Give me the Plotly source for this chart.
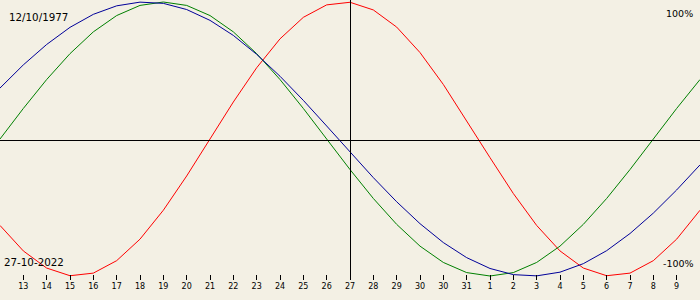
import plotly.graph_objects as go

# Day offsets from 13 Oct 2022 (index 14 = 27 Oct 2022)
days = list(range(-1, 30))
tick_pos = list(range(0, 29))
tick_labels = ["13", "14", "15", "16", "17", "18", "19", "20", "21", "22",
               "23", "24", "25", "26", "27", "28", "29", "30", "30", "31",
               "1", "2", "3", "4", "5", "6", "7", "8", "9"]

# Biorhythm values in percent
physical = [-63.1, -81.7, -94.2, -99.8, -97.9, -88.8, -73.1, -52.0, -27.0, 0.0,
            27.0, 52.0, 73.1, 88.8, 97.9, 99.8, 94.2, 81.7, 63.1, 39.8,
            13.6, -13.6, -39.8, -63.1, -81.7, -94.2, -99.8, -97.9, -88.8, -73.1,
            -52.0]
emotional = [0.0, 22.3, 43.4, 62.3, 78.2, 90.1, 97.5, 100.0, 97.5, 90.1,
             78.2, 62.3, 43.4, 22.3, 0.0, -22.3, -43.4, -62.3, -78.2, -90.1,
             -97.5, -100.0, -97.5, -90.1, -78.2, -62.3, -43.4, -22.3, 0.0, 22.3,
             43.4]
intellectual = [37.2, 54.1, 69.0, 81.5, 91.0, 97.2, 99.9, 99.0, 94.5, 86.6,
                75.6, 61.8, 45.8, 28.2, 9.5, -9.5, -28.2, -45.8, -61.8, -75.6,
                -86.6, -94.5, -99.0, -99.9, -97.2, -91.0, -81.5, -69.0, -54.1, -37.2,
                -18.9]

birth_text = "12/10/1977"
date_text = "27-10-2022"

BG = "#F3F0E4"
W = 700
PX = 1.37            # pixels per percent
CENTER = 139         # pixel row of 0 %
PLOT_H = 280
ymax = CENTER / PX
ymin = ymax - PLOT_H / PX

fig = go.Figure()
for vals, col in [(physical, "#FF0000"), (emotional, "#008000"), (intellectual, "#000099")]:
    fig.add_trace(go.Scatter(x=days, y=vals, mode="lines",
                             line=dict(color=col, width=1), hoverinfo="skip"))

# crisp 1px crosshair lines (centred on pixel column 350 / row 140)
fig.add_shape(type="line", xref="paper", yref="paper", x0=350.5 / W, x1=350.5 / W,
              y0=0, y1=1, line=dict(color="black", width=1), layer="above")
fig.add_shape(type="line", xref="paper", yref="paper", x0=0, x1=1,
              y0=1 - 140.5 / PLOT_H, y1=1 - 140.5 / PLOT_H,
              line=dict(color="black", width=1), layer="above")

def ann(text, xpx, ypx, anchor, size=10):
    fig.add_annotation(text=text, xref="paper", yref="paper",
                       x=xpx / W, y=1 - ypx / PLOT_H, xanchor=anchor, yanchor="middle",
                       showarrow=False, borderpad=0,
                       font=dict(family="DejaVu Sans", size=size, color="black"))

ann(birth_text, 8, 17, "left", 10.3)
ann(date_text, 3, 262, "left", 10.3)
ann("100%", 694, 13, "right", 9.5)
ann("-100%", 695, 263, "right", 9.5)

fig.update_layout(
    width=W, height=300,
    margin=dict(l=0, r=0, t=0, b=300 - PLOT_H, pad=0),
    paper_bgcolor=BG, plot_bgcolor=BG,
    showlegend=False,
    xaxis=dict(range=[-1, 29], tickmode="array", tickvals=tick_pos, ticktext=tick_labels,
               ticks="inside", ticklen=5, tickwidth=1, tickcolor="black",
               showgrid=False, zeroline=False, showline=False,
               tickfont=dict(family="DejaVu Sans", size=8, color="black")),
    yaxis=dict(range=[ymin, ymax], showgrid=False, zeroline=False,
               showticklabels=False, showline=False),
)

fig.write_html("out.html")
